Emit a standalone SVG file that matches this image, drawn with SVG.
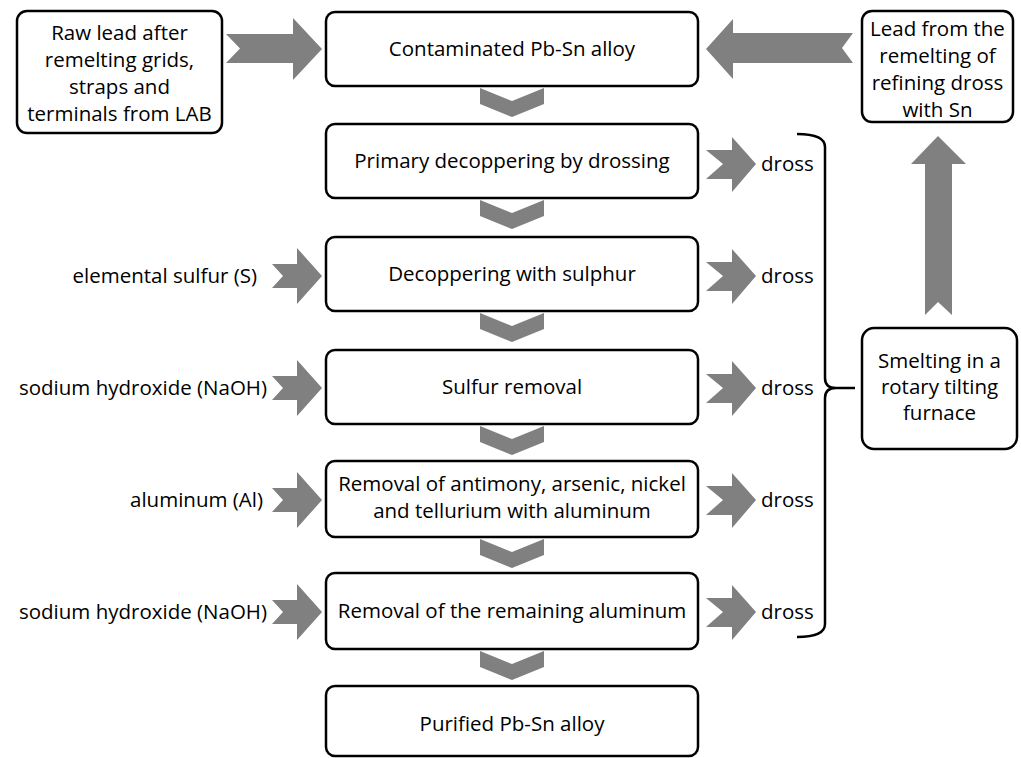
<svg xmlns="http://www.w3.org/2000/svg" width="1021" height="758" viewBox="0 0 1021 758">
<style>
.box{fill:#fff;stroke:#000;stroke-width:2.5}
.arr{fill:#808080;stroke:none}
text{font-family:"Open Sans","Liberation Sans",sans-serif;font-size:20.5px;fill:#000}
.c{text-anchor:middle}
.e{text-anchor:end}
.br{fill:none;stroke:#000;stroke-width:2.5}
</style>
<rect width="1021" height="758" fill="#fff"/>
<g id="connectors">
  <polygon class="arr" points="226,34 293,34 293,18 322,49 293,80 293,63 226,63 240,48.5"/>
  <polygon class="arr" points="853,33 733,33 733,19 706,49 733,79 733,63 853,63 842,48"/>
  <polygon class="arr" points="938,136 966,164 952,164 952,315 938,302 925,315 925,164 911,164"/>
  <polygon class="arr" points="480,88 512,101 544,88 544,104 512,117 480,104"/>
  <polygon class="arr" points="480,200 512,213 544,200 544,216 512,229 480,216"/>
  <polygon class="arr" points="480,313 512,326 544,313 544,329 512,342 480,329"/>
  <polygon class="arr" points="480,426 512,439 544,426 544,442 512,455 480,442"/>
  <polygon class="arr" points="480,539 512,552 544,539 544,555 512,568 480,555"/>
  <polygon class="arr" points="480,651 512,664 544,651 544,667 512,680 480,667"/>
  <polygon class="arr" points="272,264 297,264 297,248 322,276 297,304 297,288 272,288 283,276"/>
  <polygon class="arr" points="272,376 297,376 297,360 322,388 297,416 297,400 272,400 283,388"/>
  <polygon class="arr" points="272,488 297,488 297,472 322,500 297,528 297,512 272,512 283,500"/>
  <polygon class="arr" points="272,600 297,600 297,584 322,612 297,640 297,624 272,624 283,612"/>
  <polygon class="arr" points="706,150 732,150 732,137 756,164 732,192 732,179 706,179 723,164"/>
  <polygon class="arr" points="706,262 732,262 732,249 756,276 732,304 732,291 706,291 723,276"/>
  <polygon class="arr" points="706,374 732,374 732,361 756,388 732,416 732,403 706,403 723,388"/>
  <polygon class="arr" points="706,486 732,486 732,473 756,500 732,528 732,515 706,515 723,500"/>
  <polygon class="arr" points="706,598 732,598 732,585 756,612 732,640 732,627 706,627 723,612"/>
  <path class="br" d="M797,134 Q825,134 825,147 L825,378 Q825,388 836,388 L855,388 M836,388 Q825,388 825,398 L825,624 Q825,637 797,637"/>
</g>
<g id="n-raw">
  <rect class="box" x="17" y="11" width="205" height="122" rx="10"/>
  <text class="c" x="119.5" y="40">Raw lead after</text>
  <text class="c" x="119.5" y="67">remelting grids,</text>
  <text class="c" x="119.5" y="94">straps and</text>
  <text class="c" x="119.5" y="121">terminals from LAB</text>
</g>
<g id="n-lead">
  <rect class="box" x="862" y="11" width="151" height="111" rx="10"/>
  <text class="c" x="937.5" y="36">Lead from the</text>
  <text class="c" x="937.5" y="63">remelting of</text>
  <text class="c" x="937.5" y="90">refining dross</text>
  <text class="c" x="937.5" y="117">with Sn</text>
</g>
<g id="n-smelt">
  <rect class="box" x="862" y="328" width="155" height="121" rx="12"/>
  <text class="c" x="939.5" y="368">Smelting in a</text>
  <text class="c" x="939.5" y="394">rotary tilting</text>
  <text class="c" x="939.5" y="420">furnace</text>
</g>
<g id="n1">
  <rect class="box" x="326" y="12" width="372" height="74" rx="9"/>
  <text class="c" x="512" y="56">Contaminated Pb-Sn alloy</text>
</g>
<g id="n2">
  <rect class="box" x="326" y="124" width="372" height="74" rx="9"/>
  <text class="c" x="512" y="168">Primary decoppering by drossing</text>
</g>
<g id="n3">
  <rect class="box" x="326" y="237" width="372" height="74" rx="9"/>
  <text class="c" x="512" y="281">Decoppering with sulphur</text>
</g>
<g id="n4">
  <rect class="box" x="326" y="350" width="372" height="74" rx="9"/>
  <text class="c" x="512" y="394">Sulfur removal</text>
</g>
<g id="n5">
  <rect class="box" x="326" y="461" width="372" height="76" rx="9"/>
  <text class="c" x="512" y="491">Removal of antimony, arsenic, nickel</text>
  <text class="c" x="512" y="518">and tellurium with aluminum</text>
</g>
<g id="n6">
  <rect class="box" x="326" y="573" width="372" height="76" rx="9"/>
  <text class="c" x="512" y="618">Removal of the remaining aluminum</text>
</g>
<g id="n7">
  <rect class="box" x="326" y="686" width="372" height="70" rx="9"/>
  <text class="c" x="512" y="731">Purified Pb-Sn alloy</text>
</g>
<g id="labels">
  <text class="e" x="257" y="283">elemental sulfur (S)</text>
  <text class="e" x="267" y="395">sodium hydroxide (NaOH)</text>
  <text class="e" x="263" y="507">aluminum (Al)</text>
  <text class="e" x="267" y="619">sodium hydroxide (NaOH)</text>
  <text x="761" y="171">dross</text>
  <text x="761" y="283">dross</text>
  <text x="761" y="395">dross</text>
  <text x="761" y="507">dross</text>
  <text x="761" y="619">dross</text>
</g>
</svg>
